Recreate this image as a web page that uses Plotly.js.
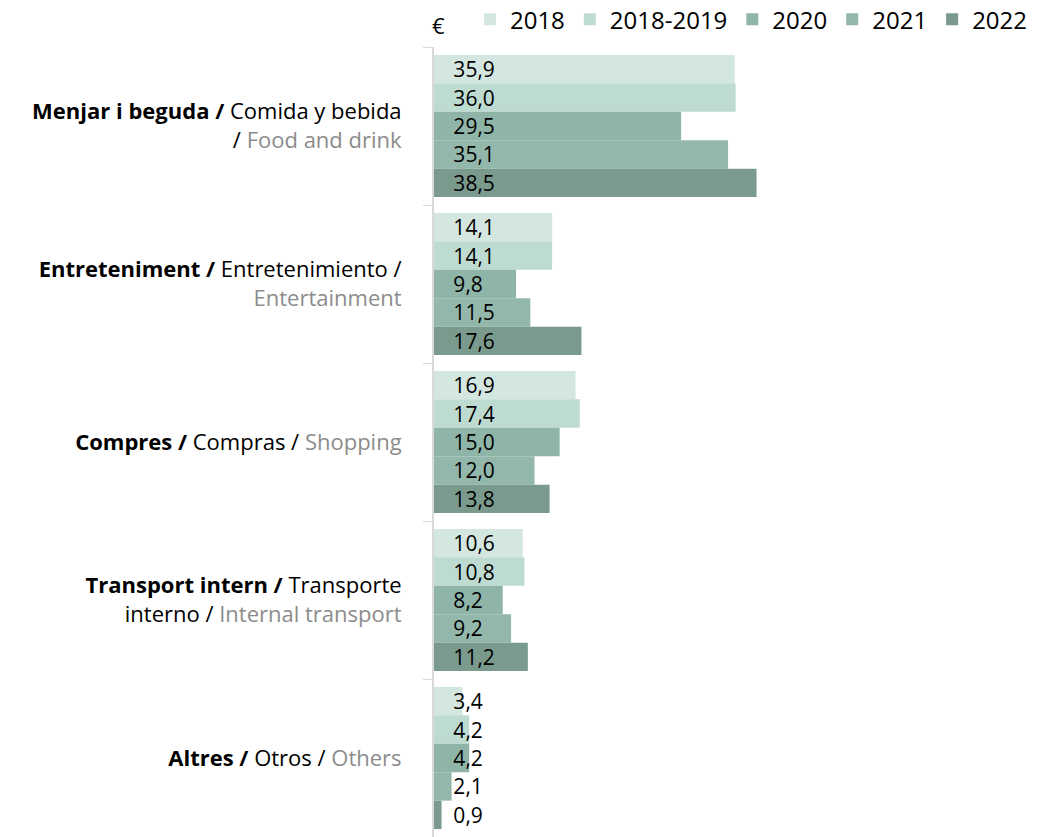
<!DOCTYPE html>
<html>
<head>
<meta charset="utf-8">
<script src="https://cdn.plot.ly/plotly-3.0.1.min.js"></script>
<style>html,body{margin:0;padding:0;background:#fff;}#chart{width:1043px;height:837px;}</style>
</head>
<body>
<div id="chart"></div>
<script>
const categories = [
  "<b>Menjar i beguda /</b> Comida y bebida<br>/ <span style='color:#8c8c8c'>Food and drink</span>",
  "<b>Entreteniment /</b> Entretenimiento /<br><span style='color:#8c8c8c'>Entertainment</span>",
  "<b>Compres /</b> Compras / <span style='color:#8c8c8c'>Shopping</span>",
  "<b>Transport intern /</b> Transporte<br>interno / <span style='color:#8c8c8c'>Internal transport</span>",
  "<b>Altres /</b> Otros / <span style='color:#8c8c8c'>Others</span>"
];
const seriesNames = ["2018", "2018-2019", "2020", "2021", "2022"];
const v2018 = [35.9, 14.1, 16.9, 10.6, 3.4];
const v2018_2019 = [36.0, 14.1, 17.4, 10.8, 4.2];
const v2020 = [29.5, 9.8, 15.0, 8.2, 4.2];
const v2021 = [35.1, 11.5, 12.0, 9.2, 2.1];
const v2022 = [38.5, 17.6, 13.8, 11.2, 0.9];
const seriesValues = [v2018, v2018_2019, v2020, v2021, v2022];
const colors = ["#d4e6e0", "#bedbd2", "#8fb5a8", "#93b8ab", "#7a9a8e"];

const FONT = "'Open Sans', sans-serif";

const traces = seriesNames.map((name, i) => ({
  type: 'bar',
  orientation: 'h',
  name: name,
  y: categories,
  x: seriesValues[i],
  marker: {color: colors[i], line: {width: 0}},
  texttemplate: '\u00a0\u00a0\u00a0%{x:.1f}',
  textposition: 'inside',
  insidetextanchor: 'start',
  textangle: 0,
  constraintext: 'none',
  insidetextfont: {color: '#000000', size: 21, family: FONT},
  cliponaxis: false,
  hoverinfo: 'skip'
}));

const layout = {
  width: 1043,
  height: 837,
  margin: {l: 434, r: 10, t: 47, b: 0, pad: 0, autoexpand: false},
  separators: ',.',
  barmode: 'group',
  bargap: 0.1,
  bargroupgap: 0,
  font: {family: FONT, size: 22, color: '#000000'},
  paper_bgcolor: '#ffffff',
  plot_bgcolor: '#ffffff',
  showlegend: true,
  legend: {
    orientation: 'h',
    x: 0.06, xanchor: 'left',
    y: 1.006, yanchor: 'bottom',
    font: {size: 24, color: '#000000', family: FONT},
    traceorder: 'normal',
    bgcolor: 'rgba(0,0,0,0)'
  },
  xaxis: {
    range: [0, 71.5],
    showgrid: false,
    zeroline: false,
    showticklabels: false,
    showline: false,
    ticks: ''
  },
  yaxis: {
    type: 'category',
    autorange: 'reversed',
    showgrid: false,
    zeroline: false,
    showline: true,
    linecolor: '#d9d9d9',
    linewidth: 2,
    ticks: 'outside',
    tickson: 'boundaries',
    ticklen: 9,
    tickcolor: '#d9d9d9',
    tickwidth: 1,
    ticklabelstandoff: 26,
    tickfont: {size: 22, color: '#000000', family: FONT}
  },
  annotations: [{
    text: '€', xref: 'paper', yref: 'paper', x: 0.0067, y: 1, xanchor: 'center', yanchor: 'middle',
    yshift: 22, showarrow: false, font: {size: 22, color: '#000000', family: FONT}
  }]
};

Plotly.newPlot('chart', traces, layout, {displayModeBar: false, staticPlot: true});
</script>
</body>
</html>
